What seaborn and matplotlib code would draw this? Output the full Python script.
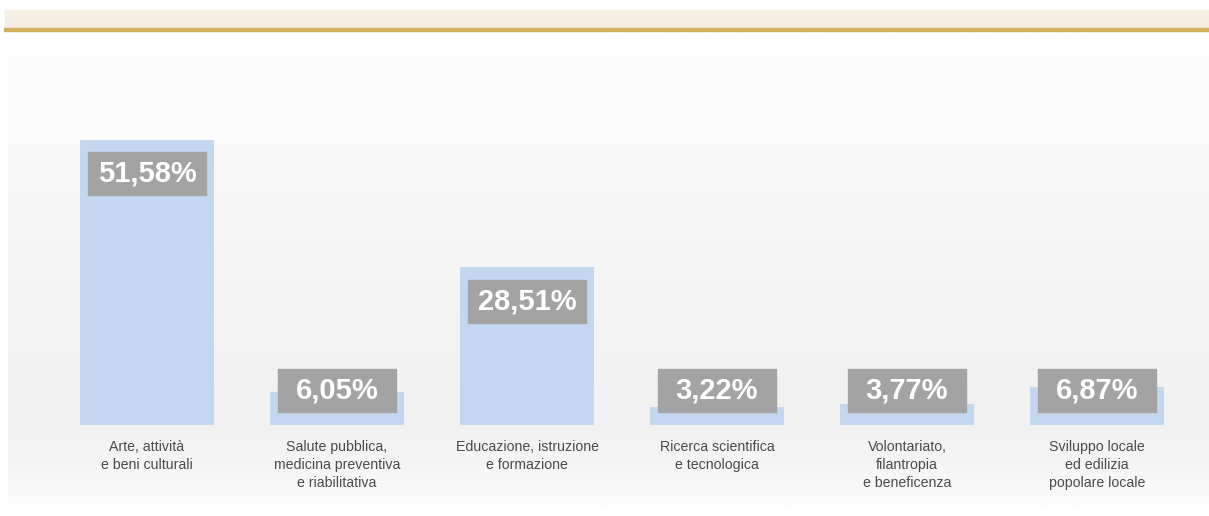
import matplotlib
matplotlib.use("Agg")
import matplotlib.pyplot as plt
import seaborn as sns
import numpy as np
import pandas as pd
from matplotlib.patches import Rectangle
from matplotlib.colors import LinearSegmentedColormap

categories = [
    "Arte, attività\ne beni culturali",
    "Salute pubblica,\nmedicina preventiva\ne riabilitativa",
    "Educazione, istruzione\ne formazione",
    "Ricerca scientifica\ne tecnologica",
    "Volontariato,\nfilantropia\ne beneficenza",
    "Sviluppo locale\ned edilizia\npopolare locale",
]
values = [51.58, 6.05, 28.51, 3.22, 3.77, 6.87]
value_labels = ["51,58%", "6,05%", "28,51%", "3,22%", "3,77%", "6,87%"]

df = pd.DataFrame({"settore": categories, "quota": values})

sns.set_style("white")
plt.rcParams["font.family"] = ["Liberation Sans", "DejaVu Sans"]

fig = plt.figure(figsize=(12.09, 5.16), dpi=100)
fig.patch.set_facecolor("white")

# soft grey background panel (vertical gradient)
bg = fig.add_axes([8 / 1209, 1 - 505 / 516, 1201 / 1209, 470 / 516])
bg_cmap = LinearSegmentedColormap.from_list(
    "bg", [(0.0, "#fefefe"), (0.45, "#f6f6f6"), (0.82, "#f1f1f1"),
           (0.92, "#f5f5f5"), (1.0, "#fcfcfc")])
bg.imshow(np.linspace(0, 1, 200).reshape(-1, 1), aspect="auto", cmap=bg_cmap,
          extent=(0, 1, 1, 0))
bg.set_axis_off()

# header band and gold rule
fig.patches.append(Rectangle((5 / 1209, 1 - 28 / 516), 1, 18 / 516,
                             transform=fig.transFigure, color="#f5eee2", zorder=0))
fig.patches.append(Rectangle((4 / 1209, 1 - 31 / 516), 1, 3 / 516,
                             transform=fig.transFigure, color="#d2b05a", zorder=1))

ax = fig.add_axes([52 / 1209, 91 / 516, 1140 / 1209, 331.5 / 516])
ax.set_facecolor("none")
sns.barplot(data=df, x="settore", y="quota", color="#c3d7f1", saturation=1,
            width=0.71, linewidth=0, edgecolor="none", ax=ax)
ax.set_xlim(-0.5, 5.5)
ax.set_ylim(0, 60)
sns.despine(ax=ax, left=True, bottom=True)
ax.set_yticks([])
ax.set_xlabel("")
ax.set_ylabel("")
ax.tick_params(axis="x", length=0, pad=11, labelsize=10.2, labelcolor="#4a4a4a")
for t in ax.get_xticklabels():
    t.set_linespacing(1.35)
    t.set_verticalalignment("top")

# grey value boxes
box_w, box_h = 0.626, 7.8
for i, (v, lab) in enumerate(zip(values, value_labels)):
    top = max(v - 2.2, 10.1)
    ax.add_patch(Rectangle((i - box_w / 2, top - box_h), box_w, box_h,
                           color="#a3a3a3", zorder=3))
    ax.text(i, top - box_h / 2, lab, ha="center", va="center", color="white",
            fontsize=21, fontweight="bold", zorder=4)

fig.savefig("out.png", dpi=100)
